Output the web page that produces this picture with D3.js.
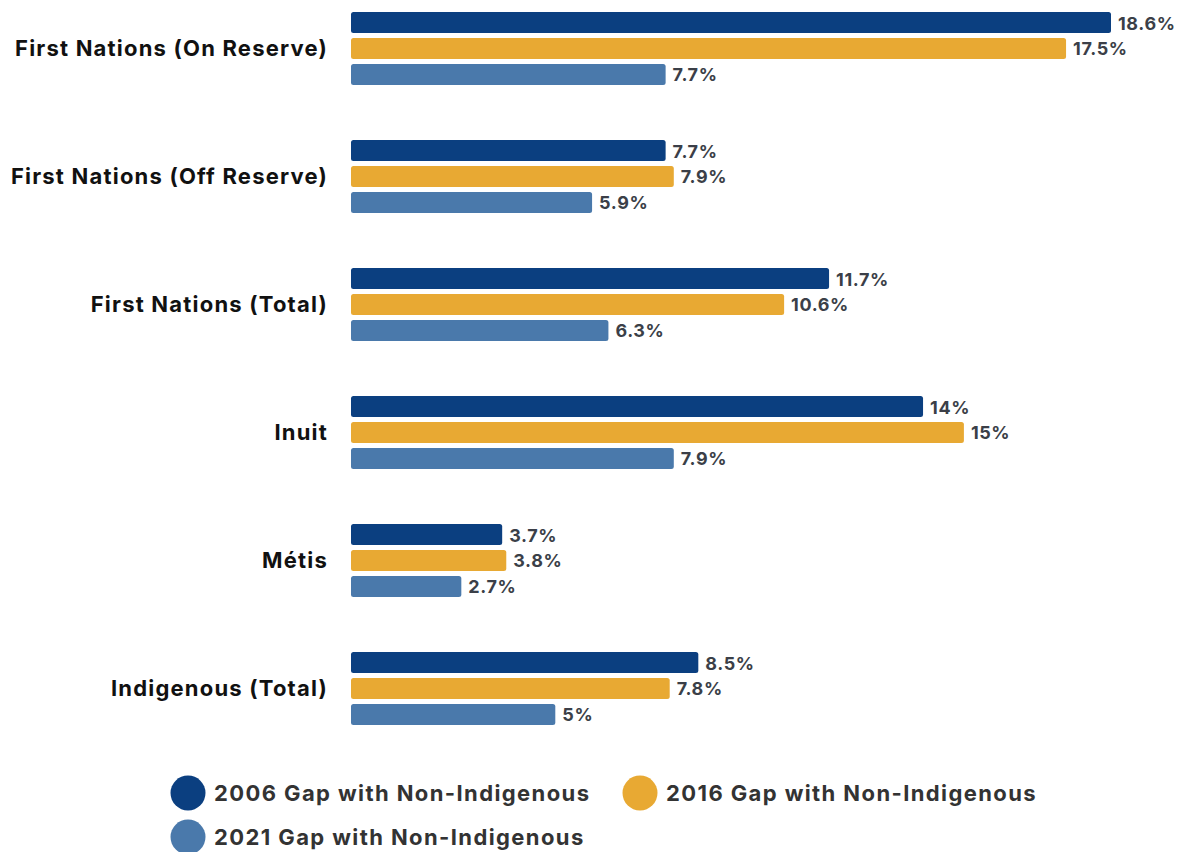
<!DOCTYPE html>
<html>
<head>
<meta charset="utf-8">
<script src="https://cdn.jsdelivr.net/npm/d3@7"></script>
<style>
  html, body { margin: 0; padding: 0; background: #ffffff; }
  svg { display: block; }
</style>
</head>
<body>
<svg id="chart" width="1181" height="852"></svg>
<script>
// Employment gap with the non-Indigenous population, by group and census year
const categories = [
  "First Nations (On Reserve)",
  "First Nations (Off Reserve)",
  "First Nations (Total)",
  "Inuit",
  "Métis",
  "Indigenous (Total)"
];
const seriesNames = [
  "2006 Gap with Non-Indigenous",
  "2016 Gap with Non-Indigenous",
  "2021 Gap with Non-Indigenous"
];
const gap2006 = [18.6, 7.7, 11.7, 14, 3.7, 8.5];
const gap2016 = [17.5, 7.9, 10.6, 15, 3.8, 7.8];
const gap2021 = [7.7, 5.9, 6.3, 7.9, 2.7, 5];
const seriesColors = ["#0b3f80", "#e8a933", "#4a79ab"];

const series = [gap2006, gap2016, gap2021];

const svg = d3.select("#chart");

const x = d3.scaleLinear().domain([0, 18.6]).range([351, 1111]);

const yGroup = d3.scaleBand()
  .domain(categories)
  .range([12, 780])
  .paddingInner(0)
  .paddingOuter(0);

const ySub = d3.scaleBand()
  .domain(d3.range(series.length))
  .range([0, 73])
  .paddingInner(0.19)
  .paddingOuter(0);

const rows = categories.flatMap((c, i) =>
  series.map((s, k) => ({ cat: c, k, value: s[i] }))
);

const g = svg.append("g");

g.selectAll("rect.bar")
  .data(rows)
  .join("rect")
  .attr("class", "bar")
  .attr("x", x(0))
  .attr("y", d => yGroup(d.cat) + ySub(d.k))
  .attr("width", d => x(d.value) - x(0))
  .attr("height", ySub.bandwidth())
  .attr("rx", 2.5)
  .attr("fill", d => seriesColors[d.k]);

g.selectAll("text.val")
  .data(rows)
  .join("text")
  .attr("class", "val")
  .attr("x", d => x(d.value) + 7)
  .attr("y", d => yGroup(d.cat) + ySub(d.k) + ySub.bandwidth() / 2 + 0.5)
  .attr("dy", "0.36em")
  .attr("font-family", "Inter, 'Noto Sans', sans-serif")
  .attr("font-weight", 700)
  .attr("font-size", 18)
  .attr("letter-spacing", 0.6)
  .attr("fill", "#3b3f48")
  .text(d => d.value + "%");

// Category labels, right-aligned against the bars, centred on the middle bar
const yAxis = d3.axisLeft(yGroup).tickSize(0).tickPadding(0);
const axisG = svg.append("g")
  .attr("transform", `translate(328, ${ySub(1) + ySub.bandwidth() / 2 - yGroup.bandwidth() / 2})`)
  .call(yAxis);
axisG.select(".domain").remove();
axisG.selectAll("text")
  .attr("font-family", "Inter, 'Noto Sans', sans-serif")
  .attr("font-weight", 700)
  .attr("font-size", 22)
  .attr("letter-spacing", 1.2)
  .attr("fill", "#111111");

// Legend
const legendPos = [
  { cx: 188, cy: 793 },
  { cx: 640, cy: 793 },
  { cx: 188, cy: 837 }
];
const legend = svg.append("g")
  .selectAll("g")
  .data(seriesNames)
  .join("g")
  .attr("transform", (d, i) => `translate(${legendPos[i].cx}, ${legendPos[i].cy})`);

legend.append("circle")
  .attr("r", 17.5)
  .attr("fill", (d, i) => seriesColors[i]);

legend.append("text")
  .attr("x", 26)
  .attr("dy", "0.36em")
  .attr("font-family", "Inter, 'Noto Sans', sans-serif")
  .attr("font-weight", 700)
  .attr("font-size", 22)
  .attr("letter-spacing", 1.4)
  .attr("fill", "#333333")
  .text(d => d);
</script>
</body>
</html>
